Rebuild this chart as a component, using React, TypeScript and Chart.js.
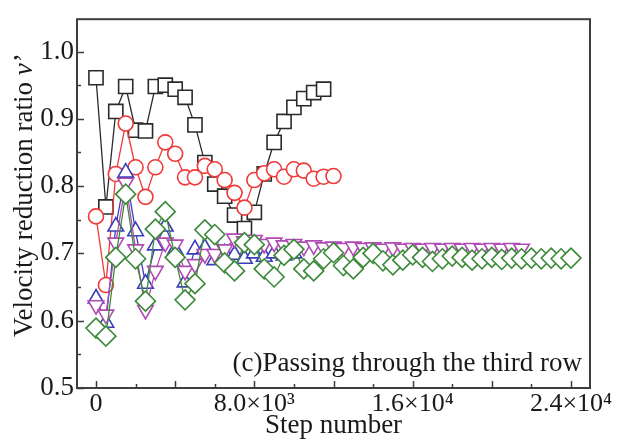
import { useEffect, useRef } from 'react';
import { Chart, registerables } from 'chart.js';

Chart.register(...registerables);

// Step numbers shared by all runs
const steps = [
  0, 500, 1000, 1500, 2000, 2500, 3000, 3500, 4000, 4500,
  5000, 5500, 6000, 6500, 7000, 7500, 8000, 8500, 9000, 9500,
  10000, 10500, 11000, 11500, 12000, 12500, 13000, 13500, 14000, 14500,
  15000, 15500, 16000, 16500, 17000, 17500, 18000, 18500, 19000, 19500,
  20000, 20500, 21000, 21500, 22000, 22500, 23000, 23500, 24000,
];

// Velocity reduction ratio per run
const squareRun = [
  0.961, 0.769, 0.911, 0.948, 0.883, 0.882, 0.948, 0.95, 0.944, 0.932,
  0.891, 0.835, 0.803, 0.785, 0.757, 0.737, 0.761, 0.818, 0.865, 0.896,
  0.917, 0.93, 0.939, 0.944,
];
const circleRun = [
  0.755, 0.653, 0.818, 0.893, 0.828, 0.784, 0.828, 0.865, 0.848, 0.813,
  0.813, 0.83, 0.825, 0.809, 0.79, 0.768, 0.809, 0.819, 0.825, 0.814,
  0.825, 0.823, 0.811, 0.814, 0.815,
];
const triangleUpRun = [
  0.633, 0.597, 0.74, 0.82, 0.733, 0.655, 0.712, 0.74, 0.705, 0.657,
  0.706, 0.708, 0.69, 0.7, 0.698, 0.692, 0.7, 0.695, 0.7, 0.697, 0.7,
];
const triangleDownRun = [
  0.623, 0.609, 0.716, 0.805, 0.706, 0.616, 0.674, 0.716, 0.713, 0.674,
  0.684, 0.699, 0.699, 0.706, 0.722, 0.718, 0.72, 0.714, 0.716, 0.712,
  0.714, 0.71, 0.712, 0.709, 0.71, 0.708, 0.71, 0.708, 0.709, 0.707,
  0.709, 0.707, 0.708, 0.707, 0.708, 0.707, 0.708, 0.707, 0.708, 0.707,
  0.708, 0.707, 0.708, 0.707,
];
const diamondRun = [
  0.589, 0.577, 0.694, 0.788, 0.692, 0.629, 0.736, 0.762, 0.694, 0.631,
  0.655, 0.735, 0.728, 0.686, 0.674, 0.716, 0.713, 0.677, 0.665, 0.697,
  0.706, 0.677, 0.674, 0.692, 0.701, 0.682, 0.677, 0.694, 0.7, 0.689,
  0.683, 0.69, 0.698, 0.694, 0.688, 0.692, 0.696, 0.694, 0.69, 0.692,
  0.694, 0.691, 0.693, 0.692, 0.693, 0.692, 0.693, 0.692, 0.693,
];

// Axis ticks
const xLabelTicks = [0, 8000, 16000, 24000];
const xLabelText = ['0', '8.0×10³', '1.6×10⁴', '2.4×10⁴'];
const xMarks = [0, 2000, 4000, 6000, 8000, 10000, 12000, 14000, 16000, 18000, 20000, 22000, 24000];
const yLabelTicks = [0.5, 0.6, 0.7, 0.8, 0.9, 1.0];
const yMarks = [0.5, 0.55, 0.6, 0.65, 0.7, 0.75, 0.8, 0.85, 0.9, 0.95, 1.0];

const SERIF = '"Liberation Serif", "Times New Roman", serif';
const FRAME = '#3d3d3d';

const toPoints = (vals: number[]) => vals.map((v, i) => ({ x: steps[i], y: v }));

const framePlugin = {
  id: 'frameAndNotes',
  afterDatasetsDraw(chart: any) {
    const { ctx, chartArea: a, scales } = chart;
    const x = scales.x;
    const y = scales.y;
    ctx.save();
    ctx.strokeStyle = FRAME;
    ctx.lineWidth = 2;
    ctx.strokeRect(a.left, a.top, a.right - a.left, a.bottom - a.top);

    ctx.lineWidth = 1.5;
    ctx.beginPath();
    xMarks.forEach((v) => {
      const px = Math.round(x.getPixelForValue(v)) + 0.5;
      const len = v % 4000 === 0 ? 7 : 4;
      ctx.moveTo(px, a.bottom);
      ctx.lineTo(px, a.bottom - len);
    });
    yMarks.forEach((v) => {
      const py = Math.round(y.getPixelForValue(v)) + 0.5;
      const len = Math.round(v * 100) % 10 === 0 ? 7 : 4;
      ctx.moveTo(a.left, py);
      ctx.lineTo(a.left + len, py);
    });
    ctx.stroke();

    // panel caption
    ctx.fillStyle = '#1a1a1a';
    ctx.font = `27px ${SERIF}`;
    ctx.textAlign = 'right';
    ctx.textBaseline = 'alphabetic';
    ctx.fillText('(c)Passing through the third row', a.right - 8, a.bottom - 17);

    // y-axis title with italic symbol
    const plain = 'Velocity reduction ratio ';
    const sym = 'v';
    const prime = '’';
    ctx.font = `27px ${SERIF}`;
    const w1 = ctx.measureText(plain).width;
    const w3 = ctx.measureText(prime).width;
    ctx.font = `italic 27px ${SERIF}`;
    const w2 = ctx.measureText(sym).width;
    const total = w1 + w2 + w3;
    const cy = (a.top + a.bottom) / 2 - 8;
    ctx.translate(32, cy);
    ctx.rotate(-Math.PI / 2);
    ctx.textAlign = 'left';
    let sx = -total / 2;
    ctx.font = `27px ${SERIF}`;
    ctx.fillText(plain, sx, 0);
    sx += w1;
    ctx.font = `italic 27px ${SERIF}`;
    ctx.fillText(sym, sx, 0);
    sx += w2;
    ctx.font = `27px ${SERIF}`;
    ctx.fillText(prime, sx + 1, 0);
    ctx.restore();
  },
};

export default function App() {
  const canvasRef = useRef<HTMLCanvasElement | null>(null);

  useEffect(() => {
    document.body.style.margin = '0';
    const canvas = canvasRef.current;
    if (!canvas) return;

    const base = {
      showLine: true,
      borderWidth: 1.3,
      pointBorderWidth: 1.6,
      pointBackgroundColor: '#ffffff',
      tension: 0,
    };

    const chart = new Chart(canvas, {
      type: 'scatter',
      data: {
        datasets: [
          {
            ...base,
            label: 'Run A',
            data: toPoints(squareRun),
            borderColor: '#2a2a2a',
            pointBorderColor: '#2a2a2a',
            pointStyle: 'rect',
            pointRadius: 10,
            order: 5,
          },
          {
            ...base,
            label: 'Run B',
            data: toPoints(circleRun),
            borderColor: '#f03a3a',
            pointBorderColor: '#f03a3a',
            pointStyle: 'circle',
            pointRadius: 7.5,
            order: 4,
          },
          {
            ...base,
            label: 'Run C',
            data: toPoints(triangleUpRun),
            borderColor: '#3a3fb8',
            pointBorderColor: '#3a3fb8',
            pointStyle: 'triangle',
            pointRadius: 9,
            order: 3,
          },
          {
            ...base,
            label: 'Run D',
            data: toPoints(triangleDownRun),
            borderColor: '#b04ab4',
            pointBorderColor: '#b04ab4',
            pointStyle: 'triangle',
            pointRotation: 180,
            pointRadius: 9,
            order: 2,
          },
          {
            ...base,
            label: 'Run E',
            data: toPoints(diamondRun),
            borderColor: '#3d8a3a',
            pointBorderColor: '#3d8a3a',
            pointStyle: 'rectRot',
            pointRadius: 10,
            order: 1,
          },
        ],
      },
      options: {
        responsive: false,
        animation: false,
        devicePixelRatio: 1,
        layout: { padding: { left: 0, right: 27, top: 12, bottom: 0 } },
        plugins: {
          legend: { display: false },
          tooltip: { enabled: false },
        },
        scales: {
          x: {
            type: 'linear',
            min: -960,
            max: 24960,
            grid: { display: false, drawTicks: false },
            border: { display: false },
            afterBuildTicks: (axis: any) => {
              axis.ticks = xLabelTicks.map((v) => ({ value: v }));
            },
            afterFit: (axis: any) => {
              axis.height = 54;
            },
            ticks: {
              padding: 1,
              color: '#1a1a1a',
              font: { family: SERIF, size: 26 },
              maxRotation: 0,
              autoSkip: false,
              callback: (v: any) => {
                const i = xLabelTicks.indexOf(Number(v));
                return i >= 0 ? xLabelText[i] : '';
              },
            },
            title: {
              display: true,
              text: 'Step number',
              color: '#1a1a1a',
              font: { family: SERIF, size: 27 },
              padding: { top: -8, bottom: 0 },
            },
          },
          y: {
            type: 'linear',
            min: 0.5,
            max: 1.048,
            grid: { display: false, drawTicks: false },
            border: { display: false },
            afterBuildTicks: (axis: any) => {
              axis.ticks = yLabelTicks.map((v) => ({ value: v }));
            },
            afterFit: (axis: any) => {
              axis.width = 77;
            },
            ticks: {
              padding: 3,
              color: '#1a1a1a',
              font: { family: SERIF, size: 27 },
              callback: (v: any) => Number(v).toFixed(1),
            },
          },
        },
      },
      plugins: [framePlugin],
    });

    return () => chart.destroy();
  }, []);

  return (
    <div style={{ width: 617, height: 442, background: '#ffffff' }}>
      <canvas ref={canvasRef} width={617} height={442} />
    </div>
  );
}
